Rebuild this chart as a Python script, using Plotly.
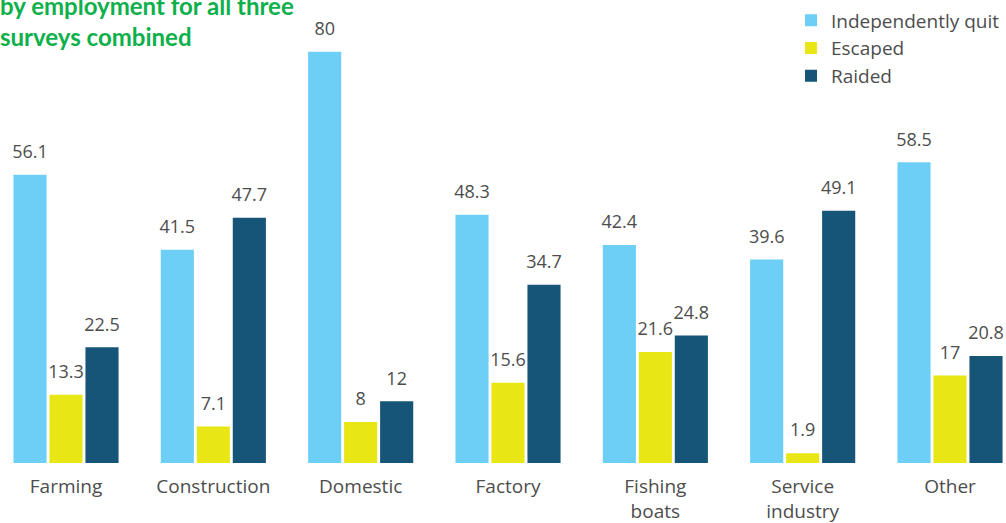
import plotly.graph_objects as go

categories = ["Farming", "Construction", "Domestic", "Factory", "Fishing<br>boats", "Service<br>industry", "Other"]
independently_quit = [56.1, 41.5, 80, 48.3, 42.4, 39.6, 58.5]
escaped = [13.3, 7.1, 8, 15.6, 21.6, 1.9, 17]
raided = [22.5, 47.7, 12, 34.7, 24.8, 49.1, 20.8]

series = [
    ("Independently quit", independently_quit, "#6dcff6"),
    ("Escaped", escaped, "#e8e615"),
    ("Raided", raided, "#165478"),
]

FONT = "Open Sans, Noto Sans, sans-serif"
TITLE_FONT = "Lato, Open Sans, sans-serif"
TXT = "#4d4d4d"

fig = go.Figure()
for name, vals, col in series:
    fig.add_trace(go.Bar(
        x=categories, y=vals, name=name, marker_color=col, marker_line_width=0,
        offsetgroup=name, hoverinfo="skip",
    ))
for name, vals, col in series:
    fig.add_trace(go.Scatter(
        x=categories, y=vals, mode="markers+text", showlegend=False,
        offsetgroup=name, hoverinfo="skip",
        marker=dict(size=18, color="rgba(0,0,0,0)"),
        text=[f"{v:g}" for v in vals], textposition="top center",
        textfont=dict(size=18, color=TXT, family=FONT), cliponaxis=False,
    ))

fig.update_layout(
    width=1006, height=523,
    margin=dict(l=0, r=0, t=0, b=60),
    paper_bgcolor="white", plot_bgcolor="white",
    barmode="group", bargap=0.267, bargroupgap=0.08,
    scattermode="group", scattergap=0.267,
    font=dict(family=FONT, color=TXT, size=18),
    xaxis=dict(range=[-0.448, 6.38], showgrid=False, showline=False, ticks="",
               tickfont=dict(size=19, color=TXT), ticklabelstandoff=10),
    yaxis=dict(range=[0, 90.08], visible=False),
    legend=dict(x=0.999, xanchor="right", y=0.997, yanchor="top",
                font=dict(size=19, color=TXT), itemwidth=30, tracegroupgap=0,
                bgcolor="rgba(0,0,0,0)"),
    showlegend=True,
)
fig.add_annotation(
    text="<b>by employment for all three<br>surveys combined</b>",
    xref="paper", yref="paper", x=0.0, y=1.0, xanchor="left", yanchor="top",
    xshift=-2, yshift=11, showarrow=False, align="left",
    font=dict(size=24, color="#0db04b", family=TITLE_FONT), bgcolor="rgba(0,0,0,0)",
)
fig.write_html("out.html", config={"displayModeBar": False},
               post_script="document.body.style.margin='0';")
